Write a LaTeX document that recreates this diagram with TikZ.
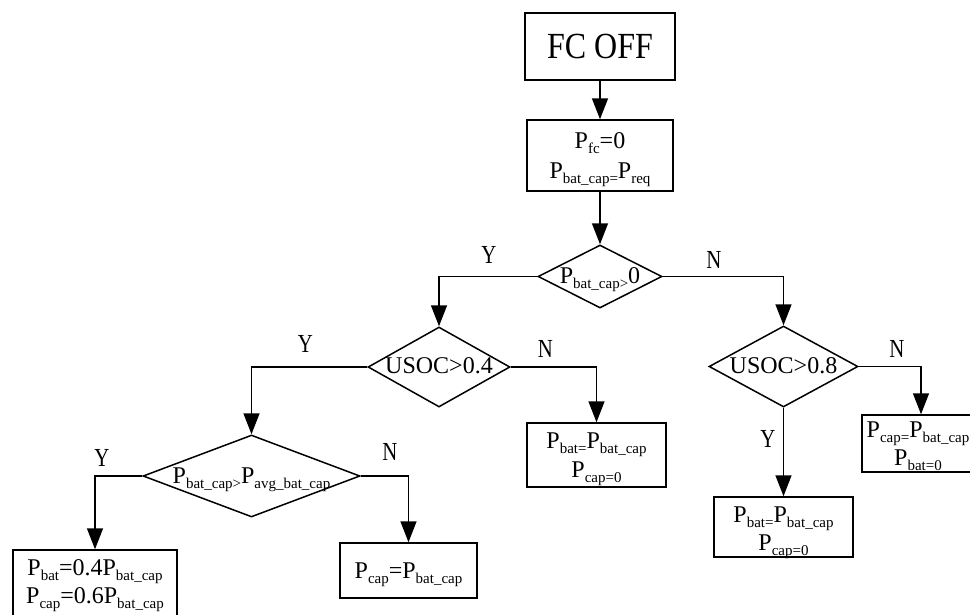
\documentclass[tikz,border=0pt]{standalone}
\usepackage{fontspec}
\setmainfont{Liberation Serif}
\usetikzlibrary{shapes.geometric,arrows.meta}
\newcommand{\sbx}[1]{\raisebox{-5pt}{\fontsize{15}{15}\selectfont #1}}
\newcommand{\yn}[1]{\scalebox{0.8}[1]{#1}}
\begin{document}
\begin{tikzpicture}[x=1pt,y=-1pt,
  box/.style={draw, line width=1.5pt, inner sep=0pt},
  txt/.style={inner sep=0pt, anchor=base, font=\fontsize{24}{24}\selectfont},
  dia/.style={draw, diamond, line width=1.5pt, inner sep=0pt},
  arr/.style={-{Triangle[length=21pt,width=16pt]}, line width=1.5pt},
  lbl/.style={inner sep=0pt, anchor=base, font=\fontsize{26}{26}\selectfont}]
\useasboundingbox (0,0) rectangle (970,614);
\clip (0,0) rectangle (970,614);
% boxes
\node[box, minimum width=150pt, minimum height=67pt] (b0) at (600,46.5) {};
\node[txt, font=\fontsize{32}{32}\selectfont] (b0t) at (600,58) {\scalebox{1}[1.15]{FC OFF}};
\node[box, minimum width=146pt, minimum height=71pt] (b1) at (600,155.5) {};
\node[txt] (b1a) at (600,148) {P\sbx{fc}=0};
\node[txt] (b1b) at (600,178) {P\sbx{bat\_cap=}P\sbx{req}};
\node[box, minimum width=164pt, minimum height=66pt] (b2) at (95,583) {};
\node[txt] (b2a) at (95,575) {P\sbx{bat}=0.4P\sbx{bat\_cap}};
\node[txt] (b2b) at (95,603) {P\sbx{cap}=0.6P\sbx{bat\_cap}};
\node[box, minimum width=137pt, minimum height=55pt] (b3) at (408.5,570.5) {};
\node[txt] (b3a) at (408.5,578) {P\sbx{cap}=P\sbx{bat\_cap}};
\node[box, minimum width=139pt, minimum height=64pt] (b4) at (596.5,455) {};
\node[txt] (b4a) at (596.5,448) {P\sbx{bat=}P\sbx{bat\_cap}};
\node[txt] (b4b) at (596.5,477) {P\sbx{cap=0}};
\node[box, minimum width=139pt, minimum height=60pt] (b5) at (783.5,527) {};
\node[txt] (b5a) at (783.5,522) {P\sbx{bat=}P\sbx{bat\_cap}};
\node[txt] (b5b) at (783.5,550) {P\sbx{cap=0}};
\node[box, minimum width=118pt, minimum height=57pt] (b6) at (921,443.5) {};
\node[txt] (b6a) at (918,437) {P\sbx{cap=}P\sbx{bat\_cap}};
\node[txt] (b6b) at (918,465) {P\sbx{bat=0}};
% diamonds
\node[dia, minimum width=124pt, minimum height=63pt] (d1) at (600,276.5) {};
\node[txt] (d1t) at (600,283) {P\sbx{bat\_cap>}0};
\node[dia, minimum width=142pt, minimum height=80pt] (d2) at (439,367) {};
\node[txt] (d2t) at (439,373) {USOC>0.4};
\node[dia, minimum width=149pt, minimum height=81pt] (d3) at (783.5,366.5) {};
\node[txt] (d3t) at (783.5,373) {USOC>0.8};
\node[dia, minimum width=217pt, minimum height=82pt] (d4) at (251.5,476) {};
\node[txt] (d4t) at (251.5,483) {P\sbx{bat\_cap>}P\sbx{avg\_bat\_cap}};
% connectors
\draw[arr] (b0) -- (b1);
\draw[arr] (b1) -- (d1);
\draw[arr] (d1.west) -| (d2.north);
\draw[arr] (d1.east) -| (d3.north);
\draw[arr] (d2.west) -| (d4.north);
\draw[arr] (d2.east) -| (b4.north);
\draw[arr] (d4.west) -| (b2.north);
\draw[arr] (d4.east) -| (b3.north);
\draw[arr] (d3.south) -- (b5.north);
\draw[arr] (d3.east) -| (b6.north);
% labels
\node[lbl] (l1) at (489,263) {\yn{Y}};
\node[lbl] (l2) at (714,268) {\yn{N}};
\node[lbl] (l3) at (305.5,352) {\yn{Y}};
\node[lbl] (l4) at (545.5,357) {\yn{N}};
\node[lbl] (l5) at (897,357) {\yn{N}};
\node[lbl] (l6) at (102,466) {\yn{Y}};
\node[lbl] (l7) at (390,460) {\yn{N}};
\node[lbl] (l8) at (768,447) {\yn{Y}};
\end{tikzpicture}
\end{document}
